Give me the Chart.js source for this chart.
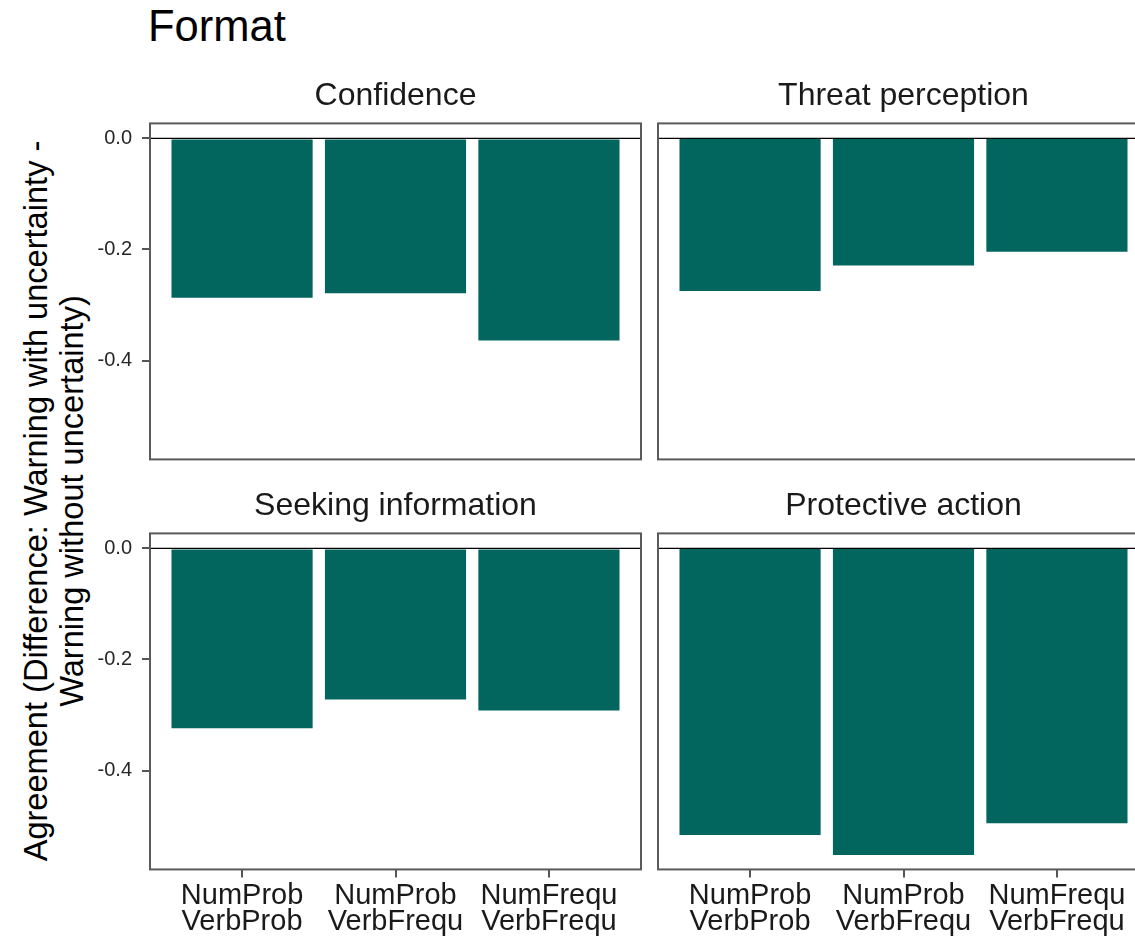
<!DOCTYPE html>
<html>
<head>
<meta charset="utf-8">
<title>Format</title>
<script src="https://cdn.jsdelivr.net/npm/chart.js@4.4.1/dist/chart.umd.min.js"></script>
<style>
  html, body {
    margin: 0; padding: 0; width: 1135px; height: 944px; overflow: hidden;
    background: #fff; font-family: "Liberation Sans", Arial, sans-serif;
  }
  .panel { position: absolute; left: 0; top: 0; }
  #title {
    position: absolute; left: 148px; top: 4px; font-size: 43.5px; line-height: 44px;
    color: #000; white-space: nowrap;
  }
  #ytitle {
    position: absolute; left: 53.5px; top: 501px; width: 820px;
    font-size: 32.6px; line-height: 36px; text-align: center; color: #000;
    white-space: nowrap; transform: translate(-50%, -50%) rotate(-90deg);
  }
</style>
</head>
<body>
<div id="title">Format</div>
<div id="ytitle">Agreement (Difference: Warning with uncertainty -<br>Warning without uncertainty)</div>
<div class="panel" id="p0"><canvas></canvas></div>
<div class="panel" id="p1"><canvas></canvas></div>
<div class="panel" id="p2"><canvas></canvas></div>
<div class="panel" id="p3"><canvas></canvas></div>
<script>
// Format comparisons (x categories, two-line labels)
const formats = [
  ['NumProb', 'VerbProb'],
  ['NumProb', 'VerbFrequ'],
  ['NumFrequ', 'VerbFrequ']
];
// Facet titles
const outcomes = ['Confidence', 'Threat perception', 'Seeking information', 'Protective action'];
// Differences in agreement per outcome
const confidence = [-0.287, -0.279, -0.364];
const threatPerception = [-0.275, -0.229, -0.204];
const seekingInformation = [-0.324, -0.272, -0.292];
const protectiveAction = [-0.516, -0.552, -0.495];
// Shared y axis
const yTicks = [0, -0.2, -0.4];
const yLimits = [-0.578, 0.027];

const barColor = '#02665f';
Chart.defaults.font.family = '"Liberation Sans", Arial, sans-serif';

// Zero reference line and panel frame
const panelFrame = {
  id: 'panelFrame',
  afterDatasetsDraw(chart) {
    const { ctx, chartArea: a, scales: { y } } = chart;
    const y0 = y.getPixelForValue(0);
    ctx.save();
    ctx.strokeStyle = '#000';
    ctx.lineWidth = 1.2;
    ctx.beginPath();
    ctx.moveTo(a.left, y0);
    ctx.lineTo(a.right, y0);
    ctx.stroke();
    ctx.strokeStyle = '#5a5a5a';
    ctx.lineWidth = 2;
    ctx.strokeRect(a.left, a.top, a.right - a.left, a.bottom - a.top);
    ctx.restore();
  }
};

const panels = [
  { id: 'p0', label: outcomes[0], values: confidence,         rect: { x: 150, y: 123, w: 491, h: 336 }, showY: true,  showX: false },
  { id: 'p1', label: outcomes[1], values: threatPerception,   rect: { x: 658, y: 123, w: 491, h: 336 }, showY: false, showX: false },
  { id: 'p2', label: outcomes[2], values: seekingInformation, rect: { x: 150, y: 533, w: 491, h: 336 }, showY: true,  showX: true },
  { id: 'p3', label: outcomes[3], values: protectiveAction,   rect: { x: 658, y: 533, w: 491, h: 336 }, showY: false, showX: true }
];

function makePanel(p) {
  const el = document.getElementById(p.id);
  el.style.width = (p.rect.w + 120) + 'px';
  el.style.height = (p.rect.h + 160) + 'px';
  const chart = new Chart(el.querySelector('canvas'), {
    type: 'bar',
    data: {
      datasets: [{
        data: p.values.map((v, i) => ({ x: i + 1, y: v })),
        backgroundColor: barColor,
        borderWidth: 0,
        barPercentage: 0.92,
        categoryPercentage: 1
      }]
    },
    options: {
      responsive: true,
      maintainAspectRatio: false,
      animation: false,
      devicePixelRatio: 1,
      layout: { padding: { left: 4, right: 4, top: 0, bottom: 4 } },
      plugins: {
        legend: { display: false },
        tooltip: { enabled: false },
        title: {
          display: true, text: p.label, fullSize: false, color: '#1a1a1a',
          font: { size: 32, weight: 'normal' }, padding: { top: 6, bottom: 8 }
        }
      },
      scales: {
        x: {
          type: 'linear', min: 0.4, max: 3.6, offset: false, display: p.showX,
          afterBuildTicks: s => { s.ticks = formats.map((f, i) => ({ value: i + 1 })); },
          ticks: {
            callback: v => formats[v - 1], color: '#1a1a1a', font: { size: 29, lineHeight: 0.92 },
            padding: 5, maxRotation: 0, autoSkip: false
          },
          grid: { drawOnChartArea: false, offset: false, tickLength: 8, color: '#555', lineWidth: 2 },
          border: { display: false }
        },
        y: {
          min: yLimits[0], max: yLimits[1], display: p.showY,
          afterBuildTicks: s => { s.ticks = yTicks.map(v => ({ value: v })); },
          ticks: { callback: v => v.toFixed(1), color: '#262626', font: { size: 20 }, padding: 10 },
          grid: { drawOnChartArea: false, tickLength: 8, color: '#555', lineWidth: 2 },
          border: { display: false },
          afterFit: s => { s.width = 60; }
        }
      }
    },
    plugins: [panelFrame]
  });

  // size the canvas so the plot area matches the panel box, then place it
  const a = chart.chartArea;
  const w = el.clientWidth + (p.rect.w - (a.right - a.left));
  const h = el.clientHeight + (p.rect.h - (a.bottom - a.top));
  el.style.width = w + 'px';
  el.style.height = h + 'px';
  chart.resize();
  const b = chart.chartArea;
  el.style.left = (p.rect.x - b.left) + 'px';
  el.style.top = (p.rect.y - b.top) + 'px';
}

panels.forEach(makePanel);
</script>
</body>
</html>
